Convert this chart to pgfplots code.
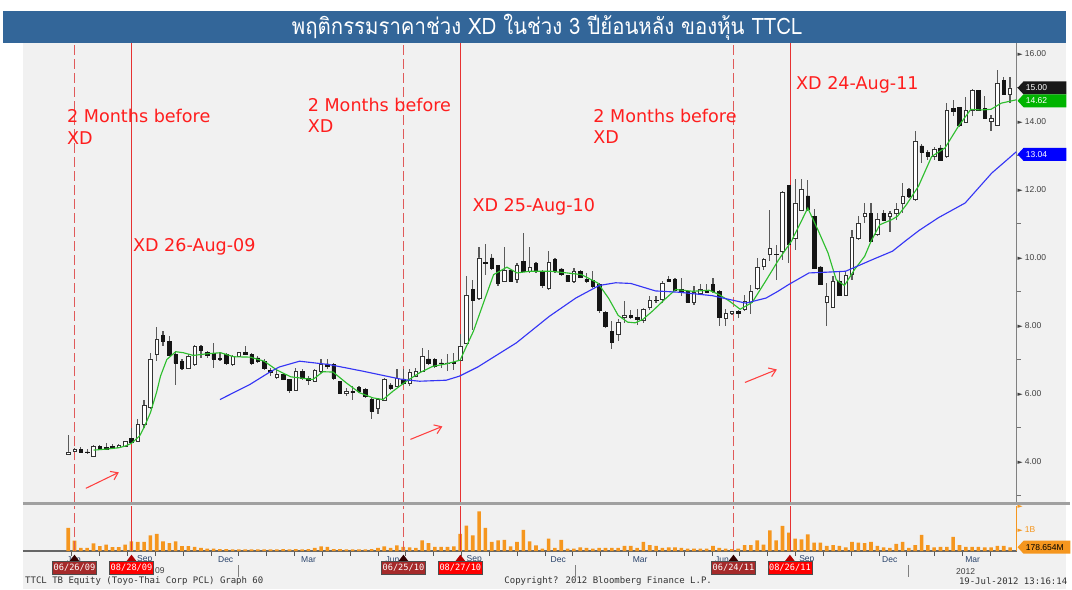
\documentclass[border=0pt]{standalone}
\usepackage{pgfplots}
\pgfplotsset{compat=1.18}
\usepackage{pgfplotstable}
\usepackage{fontspec}
\setmainfont{DejaVu Sans}
\newfontfamily\thaifont[Script=Thai]{Loma}
\newfontfamily\axfont{Liberation Sans}
\newfontfamily\bbmono{DejaVu Sans Mono}
\usetikzlibrary{arrows.meta}

\definecolor{panelbg}{HTML}{F1F1F1}
\definecolor{titlebg}{HTML}{336699}
\definecolor{annred}{HTML}{FF1E1E}
\definecolor{xdline}{HTML}{E63232}
\definecolor{preline}{HTML}{E05A5A}
\definecolor{wick}{HTML}{5A5A5A}
\definecolor{bodyk}{HTML}{151515}
\definecolor{mafastc}{HTML}{2DBE2D}
\definecolor{maslowc}{HTML}{3535F5}
\definecolor{volbar}{HTML}{F5961E}
\definecolor{axgray}{HTML}{808080}
\definecolor{sepgray}{HTML}{A0A0A0}
\definecolor{tagdark}{HTML}{A52A2A}
\definecolor{tagred}{HTML}{FF0000}
\definecolor{taggreen}{HTML}{00B400}
\definecolor{monthc}{HTML}{29436B}

\pgfplotsset{
  chartframe/.style={anchor=south west, scale only axis, width=746.25pt,
    xmin=-6.16, xmax=151.03},
  pricepanel/.style={chartframe, at={(17.25pt,-377.25pt)}, height=345pt,
    ymin=2.794, ymax=16.324},
  volpanel/.style={chartframe, at={(17.25pt,-414pt)}, height=33.75pt,
    ymin=0, ymax=2.045},
}

% weekly candles: index, open, high, low, close
\pgfplotstableread{
i o h l c
1 4.22 4.79 4.21 4.28
2 4.30 4.40 4.28 4.36
3 4.36 4.43 4.26 4.27
4 4.28 4.35 4.23 4.26
5 4.16 4.47 4.14 4.43
6 4.45 4.49 4.35 4.37
7 4.41 4.55 4.35 4.36
8 4.45 4.52 4.37 4.40
9 4.41 4.50 4.40 4.47
10 4.45 4.60 4.43 4.58
11 4.67 4.99 4.55 4.57
12 4.60 5.24 4.58 5.09
13 5.09 5.82 4.99 5.65
14 5.58 7.20 5.55 7.02
15 7.15 7.96 6.95 7.59
16 7.71 7.83 7.39 7.54
17 7.54 7.69 7.10 7.12
18 7.15 7.25 6.26 6.90
19 6.95 7.00 6.70 6.75
20 6.75 7.15 6.73 7.10
21 6.85 7.44 6.80 7.39
22 7.39 7.44 7.05 7.27
23 7.20 7.25 7.05 7.12
24 7.18 7.49 6.75 7.02
25 7.03 7.20 6.95 7.00
26 7.15 7.20 6.85 6.90
27 6.85 7.12 6.82 7.10
28 7.10 7.22 7.08 7.20
29 7.20 7.40 7.12 7.15
30 7.15 7.20 6.85 6.90
31 7.05 7.10 6.90 6.95
32 6.95 7.00 6.70 6.75
33 6.69 6.75 6.50 6.61
34 6.49 6.75 6.43 6.56
35 6.56 6.60 6.41 6.43
36 6.41 6.43 6.02 6.09
37 6.09 6.75 6.07 6.66
38 6.66 6.73 6.41 6.46
39 6.45 6.50 6.26 6.40
40 6.36 6.73 6.33 6.69
41 6.66 7.00 6.61 6.85
42 6.87 7.00 6.73 6.80
43 6.85 6.90 6.41 6.46
44 6.36 6.38 5.97 5.99
45 5.99 6.17 5.92 6.05
46 6.07 6.22 5.80 6.02
47 6.17 6.22 6.02 6.07
48 6.12 6.17 5.87 5.92
49 5.82 5.87 5.25 5.48
50 5.56 5.87 5.38 5.82
51 5.80 6.46 5.77 6.41
52 6.25 6.31 6.11 6.15
53 6.22 6.73 6.20 6.44
54 6.43 6.71 6.26 6.31
55 6.31 6.71 6.21 6.61
56 6.51 6.75 6.49 6.66
57 6.66 7.34 6.63 7.08
58 7.02 7.29 6.85 6.90
59 7.00 7.05 6.75 6.80
60 6.90 7.00 6.75 6.88
61 6.90 7.15 6.66 6.89
62 6.91 7.20 6.70 6.90
63 6.98 7.74 6.95 7.39
64 7.49 9.45 7.47 8.89
65 9.06 9.35 7.88 8.75
66 8.81 10.30 8.76 9.99
67 9.86 10.41 9.50 9.83
68 9.99 10.11 9.65 9.70
69 9.76 9.79 9.16 9.25
70 9.30 10.30 9.28 9.63
71 9.63 9.65 9.27 9.30
72 9.35 9.84 9.25 9.77
73 9.89 10.73 9.58 9.60
74 9.60 10.30 9.55 9.72
75 9.82 9.86 9.55 9.60
76 9.60 9.65 9.11 9.20
77 9.11 10.19 9.06 9.87
78 9.94 9.99 9.55 9.60
79 9.67 9.70 9.45 9.50
80 9.47 9.50 9.27 9.30
81 9.30 9.70 9.25 9.60
82 9.60 9.65 9.40 9.43
83 9.35 9.55 9.25 9.30
84 9.32 9.60 9.11 9.16
85 9.21 9.25 8.37 8.45
86 8.39 8.42 7.93 7.98
87 7.83 8.13 7.31 7.52
88 7.74 8.18 7.54 8.11
89 8.25 8.72 8.08 8.29
90 8.29 8.47 8.20 8.25
91 8.25 8.50 8.03 8.18
92 8.15 8.52 8.08 8.49
93 8.55 8.86 8.47 8.75
94 8.74 8.86 8.67 8.73
95 8.78 9.30 8.67 9.25
96 9.35 9.47 9.27 9.30
97 9.35 9.40 9.01 9.04
98 9.06 9.40 8.86 8.98
99 9.01 9.06 8.67 8.69
100 8.69 9.16 8.62 8.99
101 8.96 9.21 8.93 9.06
102 9.01 9.21 8.96 8.99
103 9.21 9.40 8.96 9.01
104 9.01 9.06 8.00 8.23
105 8.20 8.49 8.00 8.35
106 8.35 8.43 8.32 8.42
107 8.42 8.47 8.23 8.35
108 8.47 8.90 8.42 8.70
109 8.68 9.20 8.35 9.01
110 9.11 9.99 9.05 9.72
111 9.75 9.99 9.65 9.94
112 10.09 11.41 9.89 10.28
113 10.10 10.38 9.35 10.09
114 10.19 11.95 9.94 11.92
115 12.12 12.15 9.84 10.38
116 10.58 12.31 10.24 11.61
117 11.39 12.31 11.36 12.02
118 11.82 12.29 11.36 11.43
119 11.22 11.43 9.67 9.70
120 9.73 9.75 9.18 9.21
121 8.69 9.25 7.98 8.86
122 8.55 9.47 8.52 9.30
123 9.30 9.60 8.86 8.88
124 8.88 9.60 8.86 9.47
125 9.50 10.82 9.33 10.61
126 10.58 11.22 10.53 11.02
127 11.22 11.61 11.02 11.31
128 11.31 11.61 10.45 10.48
129 10.68 11.31 10.63 11.12
130 11.31 11.41 11.07 11.10
131 11.22 11.36 10.77 11.31
132 11.31 11.61 11.12 11.41
133 11.61 12.20 11.31 11.80
134 12.00 12.05 11.75 11.80
135 11.71 13.72 11.66 13.42
136 13.29 13.35 12.80 13.10
137 13.10 13.18 12.88 12.98
138 12.98 13.27 12.88 13.20
139 13.23 13.32 12.88 12.88
140 12.98 14.55 12.93 14.33
141 14.40 14.63 14.16 14.30
142 14.43 14.45 13.86 13.91
143 14.00 14.73 13.96 14.33
144 14.35 14.96 14.16 14.92
145 14.92 14.94 14.33 14.35
146 14.40 14.75 14.08 14.10
147 14.01 14.20 13.72 14.10
148 13.91 15.53 13.88 15.14
149 15.22 15.33 14.80 14.82
150 14.82 15.33 14.55 15.00
}\candles

% volume, billions of shares
\pgfplotstableread{
i v
1 1.06
2 0.48
3 0.15
4 0.15
5 0.36
6 0.23
7 0.30
8 0.19
9 0.19
10 0.30
11 0.45
12 0.42
13 0.42
14 0.72
15 0.79
16 0.45
17 0.37
18 0.45
19 0.23
20 0.23
21 0.20
22 0.15
23 0.12
24 0.12
25 0.10
26 0.10
27 0.08
28 0.08
29 0.08
30 0.08
31 0.08
32 0.08
33 0.08
34 0.08
35 0.10
36 0.08
37 0.10
38 0.08
39 0.10
40 0.15
41 0.22
42 0.20
43 0.10
44 0.10
45 0.08
46 0.08
47 0.08
48 0.08
49 0.10
50 0.15
51 0.22
52 0.15
53 0.27
54 0.20
55 0.18
56 0.15
57 0.49
58 0.37
59 0.20
60 0.20
61 0.20
62 0.22
63 0.79
64 1.17
65 0.72
66 1.81
67 1.06
68 0.42
69 0.49
70 0.52
71 0.22
72 0.42
73 0.97
74 0.45
75 0.27
76 0.12
77 0.57
78 0.15
79 0.52
80 0.12
81 0.12
82 0.18
83 0.15
84 0.12
85 0.15
86 0.15
87 0.15
88 0.15
89 0.24
90 0.24
91 0.15
92 0.43
93 0.28
94 0.24
95 0.15
96 0.18
97 0.18
98 0.15
99 0.12
100 0.12
101 0.12
102 0.12
103 0.24
104 0.15
105 0.12
106 0.10
107 0.12
108 0.28
109 0.28
110 0.49
111 0.30
112 0.95
113 0.49
114 1.15
115 0.85
116 0.57
117 0.54
118 0.77
119 0.39
120 0.39
121 0.24
122 0.28
123 0.24
124 0.18
125 0.43
126 0.39
127 0.37
128 0.43
129 0.24
130 0.18
131 0.15
132 0.34
133 0.43
134 0.15
135 0.28
136 0.74
137 0.28
138 0.18
139 0.20
140 0.20
141 0.65
142 0.28
143 0.20
144 0.20
145 0.20
146 0.18
147 0.18
148 0.24
149 0.24
150 0.18
}\vols

% short moving average (green)
\pgfplotstableread{
i v
5 4.33
7 4.36
9 4.40
10 4.45
11 4.53
12.3 4.75
13 5.00
14 5.43
15 6.05
15.6 6.51
16.6 7.00
18 7.23
19.2 7.20
20.8 7.12
23 7.17
25.1 7.20
27.2 7.08
29.8 7.07
32 6.95
34 6.69
36.2 6.49
37.5 6.46
39.7 6.41
41.3 6.64
42.9 6.63
45 6.31
47.1 6.02
49.2 5.87
50.8 5.82
52.4 6.07
54.5 6.36
56.6 6.61
58.7 6.80
60.8 6.87
63 6.98
64 7.39
65.1 7.83
66.7 8.67
68.3 9.50
70.4 9.72
72 9.55
74.1 9.60
77.3 9.60
79.9 9.55
82.2 9.50
84.8 9.25
86.5 8.80
88 8.30
89.5 8.10
90.7 8.08
91.9 8.18
93.4 8.42
95.6 8.81
97.1 9.06
99.8 9.01
102.4 9.04
104 8.91
105.6 8.72
107.3 8.48
109.2 8.68
111.3 9.30
113.4 9.94
115.4 10.48
118 11.46
119.6 10.82
121.2 10.14
122.5 9.35
123.8 9.18
125.4 9.65
127 10.04
128 10.48
129.4 10.97
131.3 11.12
132.2 11.22
133.6 11.56
135.5 12.10
137.6 12.98
139.7 13.23
141.8 13.86
143.8 14.37
145.4 14.35
147 14.37
148.6 14.55
151 14.65
}\fastma

% long moving average (blue)
\pgfplotstableread{
i v
25 5.82
29.7 6.26
32.9 6.63
34.4 6.78
37.6 6.95
42.3 6.85
47.5 6.66
53.9 6.41
56.6 6.36
60.8 6.39
62.9 6.51
65.8 6.78
71.9 7.49
77.1 8.27
81.3 8.81
85 9.18
87.6 9.26
90 9.24
93.9 9.02
97.7 8.98
102.9 8.88
108.2 8.66
111.4 8.81
113.2 9.00
115 9.21
118.2 9.55
120.8 9.57
124 9.60
128.2 9.94
131.4 10.19
133.5 10.50
135.6 10.80
138.7 11.18
142.9 11.61
147.1 12.49
151 13.12
}\slowma

\newcommand\datetag[4]{%
  \fill[#4] (#1-5,562) -- (#1,555.5) -- (#1+5,562) -- cycle;
  \node[fill=#3, draw=black!70, line width=0.4pt, text=white,
    font=\bbmono\fontsize{6.5}{7}\selectfont, inner sep=0pt,
    minimum width=33pt, minimum height=9.75pt] at (#1,568.5) {#2};
}
\newcommand\valtag[5]{%
  \fill[#3] (1019,#1) -- (1025,#1-6.5) -- (#5,#1-6.5) -- (#5,#1+6.5) -- (1025,#1+6.5) -- cycle;
  \node[anchor=west, text=#4, font=\axfont\fontsize{6.4}{7}\selectfont, inner sep=0pt] at (1027,#1) {#2};
}

\begin{document}
\begin{tikzpicture}
\begin{scope}[x=0.75pt, y=-0.75pt]
  \useasboundingbox (0,0) rectangle (1072,590);
  \fill[white] (0,0) rectangle (1072,590);
  \fill[panelbg] (23,43) rectangle (1068,590);
  \fill[titlebg] (3,11) rectangle (1068,43);
\end{scope}

% price panel: event lines, wicks, right axis
\begin{axis}[pricepanel,
  axis x line=none, axis y line*=right,
  axis line style={draw=axgray, line width=1.1pt},
  ytick={4,6,...,16}, minor ytick={3,5,...,15},
  tick align=outside, major tick length=0pt, minor tick length=3pt,
  minor tick style={draw=black!55, line width=0.6pt},
  yticklabel style={font=\axfont\fontsize{6.4}{7}\selectfont, text=black!75,
    inner sep=0pt, anchor=west, xshift=0.6pt},
  yticklabel={{\normalfont\fontsize{5}{5}\selectfont ►}\hspace{1.6pt}\pgfmathprintnumber[fixed, fixed zerofill, precision=2, assume math mode=true]{\tick}},
]
  \addplot[preline, line width=0.9pt, dash pattern=on 7.5pt off 3pt] coordinates {(2,2.794) (2,16.324)};
  \addplot[preline, line width=0.9pt, dash pattern=on 7.5pt off 3pt] coordinates {(54,2.794) (54,16.324)};
  \addplot[preline, line width=0.9pt, dash pattern=on 7.5pt off 3pt] coordinates {(106.2,2.794) (106.2,16.324)};
  \addplot[xdline, line width=0.8pt] coordinates {(11.05,2.794) (11.05,16.324)};
  \addplot[xdline, line width=0.8pt] coordinates {(63,2.794) (63,16.324)};
  \addplot[xdline, line width=0.8pt] coordinates {(115.2,2.794) (115.2,16.324)};
  \addplot[draw=none, mark=none,
    error bars/.cd, y dir=both, y explicit, error mark=none,
    error bar style={draw=wick, line width=0.9pt, solid}]
    table[x=i, y expr={(\thisrow{h}+\thisrow{l})/2}, y error expr={(\thisrow{h}-\thisrow{l})/2}]{\candles};
\end{axis}

% candle bodies (floating bars)
\begin{axis}[pricepanel, hide axis, ybar stacked, bar width=2.6pt]
  \addplot[draw=none, fill=none] table[x=i, y expr={min(\thisrow{o},\thisrow{c})}]{\candles};
  \addplot[draw=black!80, fill=white, line width=0.45pt] table[x=i, y expr={max(\thisrow{c}-\thisrow{o},0)}]{\candles};
  \addplot[draw=bodyk, fill=bodyk, line width=0.45pt] table[x=i, y expr={max(\thisrow{o}-\thisrow{c},0)}]{\candles};
\end{axis}

% moving averages
\begin{axis}[pricepanel, hide axis]
  \addplot[mafastc, line width=0.85pt, mark=none] table[x=i, y=v]{\fastma};
  \addplot[maslowc, line width=0.85pt, mark=none] table[x=i, y=v]{\slowma};
\end{axis}

% volume panel
\begin{axis}[volpanel,
  axis x line*=bottom, axis y line*=right,
  x axis line style={draw=black!60, line width=1.1pt},
  y axis line style={draw=volbar, line width=1.1pt},
  xtick=\empty, ytick={1,2}, major tick length=0pt,
  yticklabel style={font=\axfont\fontsize{6.4}{7}\selectfont, text=volbar,
    inner sep=0pt, anchor=west, xshift=0.6pt},
  yticklabel={{\normalfont\fontsize{5}{5}\selectfont ►}\ifnum\ticknum=0 \hspace{1.6pt}1B\fi},
]
  \addplot[ybar, bar width=2.7pt, fill=volbar, draw=none] table[x=i, y=v]{\vols};
  \addplot[preline, line width=0.9pt, dash pattern=on 7.5pt off 3pt] coordinates {(2,0) (2,2.045)};
  \addplot[preline, line width=0.9pt, dash pattern=on 7.5pt off 3pt] coordinates {(54,0) (54,2.045)};
  \addplot[preline, line width=0.9pt, dash pattern=on 7.5pt off 3pt] coordinates {(106.2,0) (106.2,2.045)};
  \addplot[xdline, line width=0.8pt] coordinates {(11.05,0) (11.05,2.045)};
  \addplot[xdline, line width=0.8pt] coordinates {(63,0) (63,2.045)};
  \addplot[xdline, line width=0.8pt] coordinates {(115.2,0) (115.2,2.045)};
\end{axis}

\begin{scope}[x=0.75pt, y=-0.75pt]
  % title
  \node[text=white, font=\thaifont\fontsize{17}{17}\selectfont] at (548,27.5)
    {\scalebox{0.9}[1]{พฤติกรรมราคาช่วง XD ในช่วง 3 ปีย้อนหลัง ของหุ้น TTCL}};
  % panel separator
  \draw[sepgray, line width=2.3pt] (23,504) -- (1072,504);
  % month ticks and year separators
  \foreach \k in {0,...,33} \draw[black!65, line width=0.6pt] ({72+27.87*\k},552.5) -- ++(0,4);
  \foreach \xx in {239,576,910} \draw[axgray, line width=0.8pt] (\xx,566) -- (\xx,578);
  \foreach \xx/\m in {74/Jun,145/Sep,226/Dec,309/Mar,393/Jun,475/Sep,559/Dec,641/Mar,723/Jun,808/Sep,891/Dec,974/Mar}
    \node[font=\axfont\fontsize{6.4}{7}\selectfont, text=monthc, inner sep=0pt] at (\xx,560) {\m};
  \node[font=\axfont\fontsize{6.4}{7}\selectfont, text=black!75, inner sep=0pt] at (160,571) {09};
  \node[font=\axfont\fontsize{6.4}{7}\selectfont, text=black!75, inner sep=0pt] at (967,572) {2012};
  % date tags
  \datetag{74.6}{06/26/09}{tagdark}{black!80!red}
  \datetag{131.7}{08/28/09}{tagred}{red!70!black}
  \datetag{404}{06/25/10}{tagdark}{black!80!red}
  \datetag{461}{08/27/10}{tagred}{red!70!black}
  \datetag{734.5}{06/24/11}{tagdark}{black!80!red}
  \datetag{791}{08/26/11}{tagred}{red!70!black}
  % last value tags
  \valtag{88}{15.00}{black!90}{white}{1068}
  \valtag{100.9}{14.62}{taggreen}{white}{1068}
  \valtag{154.6}{13.04}{blue}{white}{1068}
  \valtag{548}{178.654M}{volbar}{black}{1072}
  % annotations
  \tikzset{ann/.style={anchor=west, text=annred, font=\fontsize{13.2}{16}\selectfont, inner sep=0pt}}
  \node[ann] at (67,116) {2 Months before};
  \node[ann] at (67,138) {XD};
  \node[ann] at (308,105) {2 Months before};
  \node[ann] at (308,126) {XD};
  \node[ann] at (594,116) {2 Months before};
  \node[ann] at (594,137) {XD};
  \node[ann] at (133,247) {XD 26-Aug-09};
  \node[ann] at (473,207) {XD 25-Aug-10};
  \node[ann] at (797,85) {XD 24-Aug-11};
  \tikzset{arr/.style={draw=annred!85, line width=0.8pt, -{Straight Barb[length=5pt, width=7pt]}}}
  \draw[arr] (86,489) -- (119,473);
  \draw[arr] (411,440) -- (443,427);
  \draw[arr] (746,383) -- (778,370);
  % footer
  \node[anchor=west, font=\bbmono\fontsize{6.75}{8}\selectfont, text=black!80, inner sep=0pt] at (25,582) {TTCL TB Equity (Toyo-Thai Corp PCL) Graph 60};
  \node[font=\bbmono\fontsize{6.75}{8}\selectfont, text=black!80, inner sep=0pt] at (609,582) {Copyright? 2012 Bloomberg Finance L.P.};
  \node[anchor=east, font=\bbmono\fontsize{6.75}{8}\selectfont, text=black!80, inner sep=0pt] at (1069,582) {19-Jul-2012 13:16:14};
\end{scope}
\end{tikzpicture}
\end{document}
